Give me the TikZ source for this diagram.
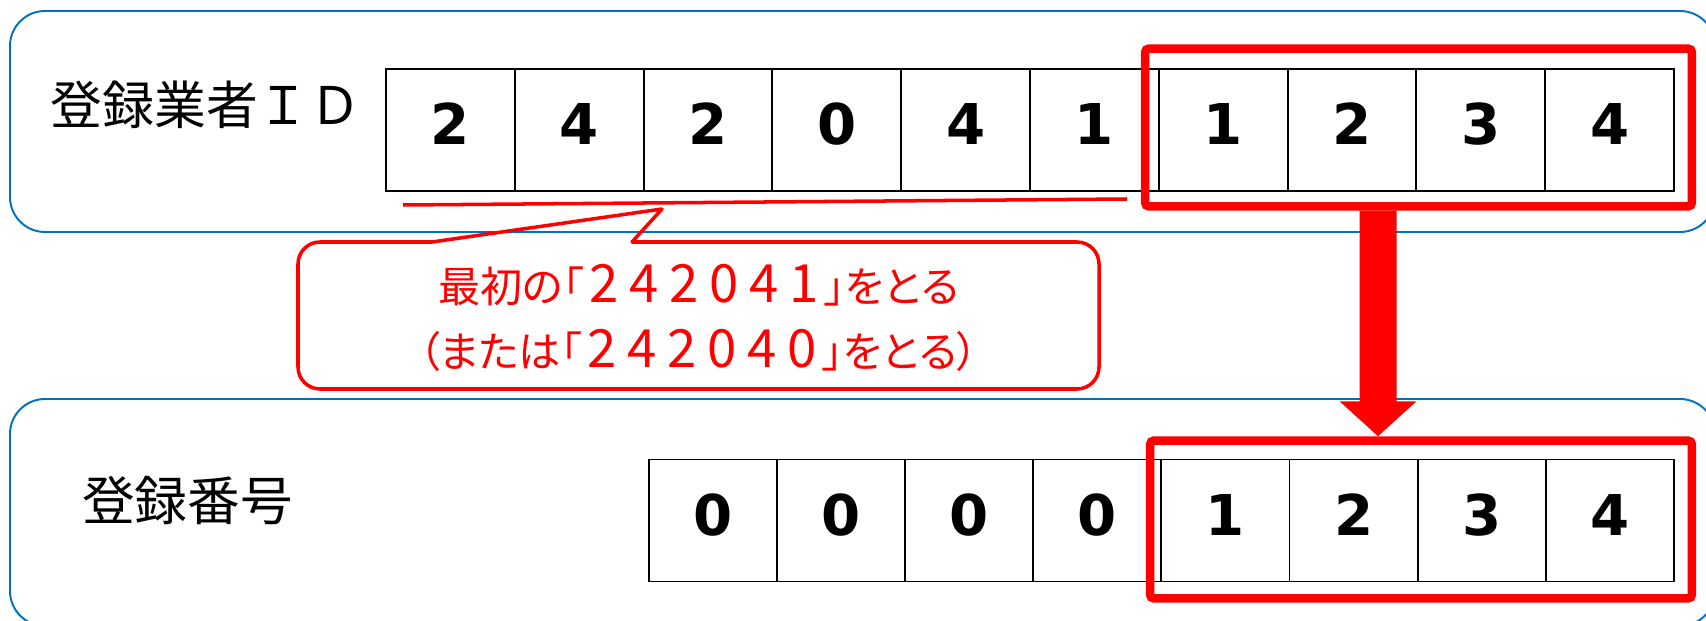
\documentclass[tikz,border=0pt]{standalone}
\usepackage{fontspec}
\newfontfamily\jpfont{Noto Sans CJK JP}
\newfontfamily\jpnote[RawFeature=+palt]{Noto Sans CJK JP}
\newfontfamily\numfont{DejaVu Sans}
\usetikzlibrary{arrows.meta}

\definecolor{panelblue}{RGB}{0,112,192}
\definecolor{markred}{RGB}{255,0,0}

% one tall digit of the callout
\newcommand\dg[1]{\makebox[0.8cm]{\fontsize{30pt}{37pt}\selectfont#1}}

\tikzset{
    panel/.style={draw=panelblue, line width=1.1pt, rounded corners=0.7cm},
    cell/.style={draw, line width=1.1pt, minimum width=#1, minimum height=2.44cm,
        inner sep=0pt, text height=0.82cm, text depth=0.24cm,
        font=\numfont\bfseries\fontsize{32pt}{38pt}\selectfont},
    selframe/.style={draw=markred, line width=0.17cm, rounded corners=0.08cm, inner sep=0pt},
    bigarrow/.style={markred, line width=0.74cm, -{Triangle[width=1.5cm,length=0.7cm]}},
    noteline/.style={draw=markred, line width=2pt, line cap=round, line join=round},
    label/.style={font=\jpfont\fontsize{#1}{36pt}\selectfont}
}

\begin{document}
\begin{tikzpicture}[x=0.02cm, y=-0.02cm]

    \useasboundingbox (0,0) rectangle (1706,621);
    \clip (0,0) rectangle (1706,621);
    \fill[white] (0,0) rectangle (1706,621);

    % blue panels
    \draw[panel] (10,11) rectangle (1715,232);
    \draw[panel] (10,399) rectangle (1715,626);

    % labels
    \node[label=29.5pt] (idlabel) at (206,105) {登録業者ＩＤ};
    \node[label=30pt] (nolabel) at (187.5,501) {登録番号};

    % registered ID cells
    \foreach \d [count=\i] in {2,4,2,0,4,1,1,2,3,4}
        \node[cell=2.576cm] (id\i) at ({386+(\i-0.5)*128.8},130) {\d};

    % registration number cells
    \foreach \d [count=\i] in {0,0,0,0,1,2,3,4}
        \node[cell=2.562cm] (no\i) at ({649+(\i-0.5)*128.1},520.5) {\d};

    % underline of the first six digits
    \draw[markred, line width=2pt] (403,205) -- (1127,199);

    % callout
    \draw[noteline] (632,242) -- (662,209) -- (432,242) [rounded corners=0.44cm]
        -- (298,242) -- (298,389) -- (1099,389) -- (1099,242) -- (632,242);
    \node[align=center, text=markred, font=\jpnote\fontsize{24pt}{37pt}\selectfont] (note) at (698.5,318)
        {最初の「\dg2\dg4\dg2\dg0\dg4\dg1」をとる\\（または「\dg2\dg4\dg2\dg0\dg4\dg0」をとる）};

    % red frames round the last four digits
    \node[selframe, minimum width=10.94cm, minimum height=3.16cm] (topsel) at (1418.5,127.5) {};
    \node[selframe, minimum width=10.84cm, minimum height=3.16cm] (bottomsel) at (1421,519.5) {};

    % thick arrow
    \draw[bigarrow] ([xshift=-0.81cm]topsel.south) -- ([xshift=-0.86cm]bottomsel.north);

\end{tikzpicture}
\end{document}
